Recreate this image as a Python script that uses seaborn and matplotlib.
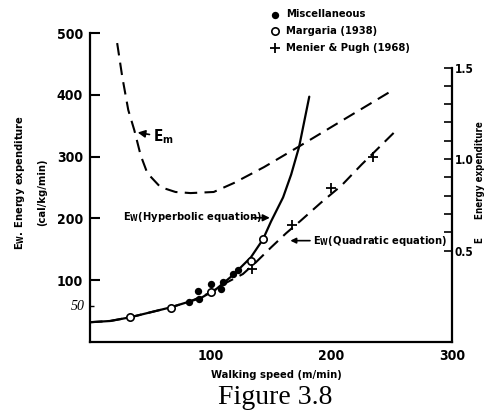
import matplotlib
matplotlib.use('Agg')
import matplotlib.pyplot as plt
import seaborn as sns
from matplotlib.ticker import FixedLocator

sns.set_style('white')
plt.rcParams['font.family'] = ['DejaVu Sans']
plt.rcParams['font.weight'] = 'bold'
plt.rcParams['font.stretch'] = 'condensed'
# tudo em preto, como no original
for k in ['text.color', 'axes.labelcolor', 'xtick.color', 'ytick.color', 'axes.edgecolor']:
    plt.rcParams[k] = 'black'

# Curva hiperbolica (linha cheia)
speed_hyp = [0, 16.7, 33.3, 50, 66.7, 83.3, 91.7, 104.2, 118.3, 133.3, 143.3, 150, 160, 166.7, 173.3, 181.7]
ew_hyp = [32, 34, 40, 48, 56, 66, 71, 85, 108, 137, 166, 195, 234, 271, 316, 397]

# Curva quadratica (tracejada)
speed_quad = [0, 16.7, 33.3, 50, 66.7, 83.3, 100, 112, 126.7, 137.5, 150, 162.5, 175, 191.7, 208.3, 225, 237.5, 252.5]
ew_quad = [32, 34, 40, 48, 56, 66, 80, 95, 110, 129, 153, 176, 197, 226, 253, 287, 311, 340]

# E_m (eixo da direita)
speed_em = [22.5, 26.7, 31.7, 36.7, 42, 47.5, 58.3, 70.8, 83.3, 102.5, 119.2, 144.2, 172.5, 200, 227.5, 252.5]
em = [1.634, 1.45, 1.268, 1.158, 1.02, 0.923, 0.847, 0.820, 0.814, 0.820, 0.869, 0.956, 1.066, 1.175, 1.284, 1.383]

# Pontos
misc_speed = [81.7, 89.2, 90, 100, 108.3, 110, 118.3, 122.5]
misc_ew = [64.5, 82, 69, 93.5, 85.5, 96.8, 109.7, 116]
marg_speed = [33.3, 66.7, 100, 133.3, 143.3]
marg_ew = [40.3, 54.8, 80.6, 130.6, 166]
mp_speed = [134.2, 167.5, 200, 234.2]
mp_ew = [117.7, 188.7, 248.4, 300]

fig = plt.figure(figsize=(4.85, 4.12), dpi=100)
ax = fig.add_axes([0.1856, 0.1699, 0.7464, 0.75])
ax2 = ax.twinx()

sns.lineplot(x=speed_hyp, y=ew_hyp, color='black', lw=1.6, ax=ax)
sns.lineplot(x=speed_quad, y=ew_quad, color='black', lw=1.5, linestyle=(0, (6, 3.5)), ax=ax)
sns.lineplot(x=speed_em, y=em, color='black', lw=1.5, linestyle=(0, (6, 3.5)), ax=ax2)

sns.scatterplot(x=misc_speed, y=misc_ew, marker='o', color='black', s=28, linewidth=0,
                label='Miscellaneous', ax=ax, zorder=5)
sns.scatterplot(x=marg_speed, y=marg_ew, marker='o', color='white', edgecolor='black', s=28,
                linewidth=1.2, label='Margaria (1938)', ax=ax, zorder=5)
sns.scatterplot(x=mp_speed, y=mp_ew, marker='+', color='black', s=45, linewidth=1.3,
                label='Menier & Pugh (1968)', ax=ax, zorder=5)

ax.set_xlim(0, 300)
ax.set_ylim(0, 500)
ax2.set_ylim(0, 1.689)

for s in ['top', 'right']:
    ax.spines[s].set_visible(False)
for s in ['top', 'left', 'bottom']:
    ax2.spines[s].set_visible(False)
ax.spines['left'].set_linewidth(1.6)
ax.spines['bottom'].set_linewidth(1.6)
ax2.spines['right'].set_linewidth(1.6)
ax2.spines['right'].set_bounds(0, 1.5)

ax.xaxis.set_major_locator(FixedLocator([100, 200, 300]))
ax.xaxis.set_minor_locator(FixedLocator([50, 150, 250]))
ax.yaxis.set_major_locator(FixedLocator([100, 200, 300, 400, 500]))
ax.yaxis.set_minor_locator(FixedLocator([58]))
ax.tick_params(axis='both', which='major', direction='in', length=7, width=1.5, labelsize=10, pad=5)
ax.tick_params(axis='x', which='minor', direction='in', length=6, width=1.3)
ax.tick_params(axis='y', which='minor', direction='in', length=3, width=1)
ax.text(-4, 58, '50', ha='right', va='center', fontsize=10, fontstyle='italic',
        fontweight='normal', family='Liberation Serif')

ax2.yaxis.set_major_locator(FixedLocator([0.5, 1.0, 1.5]))
ax2.yaxis.set_minor_locator(FixedLocator([0.6, 0.7, 0.8, 0.9, 1.1, 1.2, 1.3, 1.4]))
ax2.set_yticklabels(['0.5', '1.0', '1.5'])
ax2.tick_params(axis='y', which='both', direction='in', length=6, width=1.2, labelsize=8.5, pad=2)

# Anotacoes
ax.annotate('E$_\\mathbf{m}$', xy=(39.5, 339), xytext=(52, 332), fontsize=11, va='center',
            arrowprops=dict(arrowstyle='-|>', color='black', lw=1.2, shrinkA=0, shrinkB=0))
ax.text(27, 202, 'E$_\\mathbf{W}$(Hyperbolic equation)', fontsize=8, va='center')
ax.annotate('', xy=(149, 201), xytext=(135, 201),
            arrowprops=dict(arrowstyle='-|>', color='black', lw=1.2, shrinkA=0, shrinkB=0))
ax.annotate('E$_\\mathbf{W}$(Quadratic equation)', xy=(166, 164), xytext=(185, 164), fontsize=8,
            va='center', arrowprops=dict(arrowstyle='-|>', color='black', lw=1.2, shrinkA=0, shrinkB=0))

ax.legend(loc='upper left', bbox_to_anchor=(0.557, 0.977), bbox_transform=fig.transFigure,
          frameon=False, fontsize=8, handlelength=0.8, handletextpad=0.6, labelspacing=0.6,
          borderpad=0, borderaxespad=0)

fig.text(0.041, 0.556, 'E$_\\mathbf{W}$. Energy expenditure', rotation=90, ha='center', va='center', fontsize=8)
fig.text(0.087, 0.534, '(cal/kg/min)', rotation=90, ha='center', va='center', fontsize=8)
fig.text(0.99, 0.558, 'E      Energy expenditure', rotation=90, ha='center', va='center', fontsize=7)
fig.text(0.569, 0.09, 'Walking speed (m/min)', ha='center', va='center', fontsize=8)
fig.text(0.567, 0.02, 'Figure 3.8', ha='center', va='baseline', fontsize=20,
         fontweight='normal', fontstretch='normal', family='Liberation Serif')

fig.savefig('out.png', dpi=100)
